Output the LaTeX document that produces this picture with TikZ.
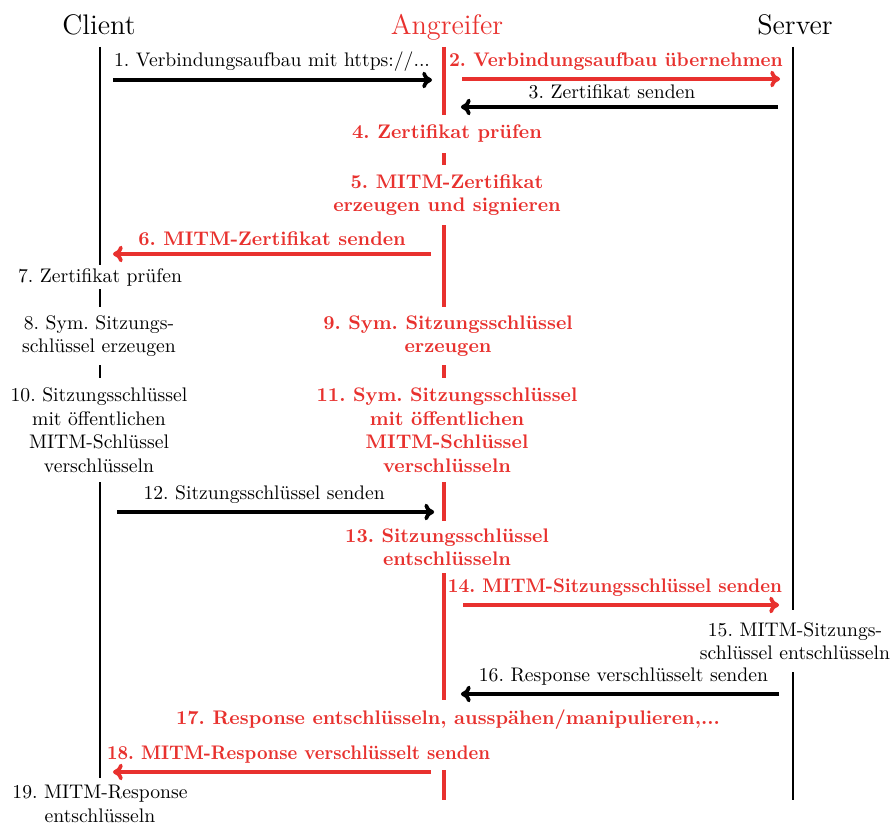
\documentclass[tikz,border=0pt]{standalone}
\usepackage{graphicx}
\usetikzlibrary{arrows.meta}
\definecolor{attack}{RGB}{232,49,46}
\frenchspacing
\begin{document}
\begin{tikzpicture}[x=0.5089pt, y=-0.5089pt,
  head/.style={font=\Large, anchor=base, inner sep=0pt},
  life/.style={line width=1.5pt},
  evilline/.style={life, attack, line width=1.7pt},
  msg/.style={line width=1.9pt, -{To[length=5pt,width=8.5pt]}},
  evilmsg/.style={msg, attack},
  note/.style={fill=white, align=center, inner xsep=1pt},
  evil/.style={text=attack, font=\bfseries},
  lbl/.style={above, inner xsep=1pt}
]
\useasboundingbox (0,0) rectangle (892,825);

% participants
\node[head] (client) at (99,35) {Client};
\node[head, text=attack] (attacker) at (447,35) {Angreifer};
\node[head] (server) at (795,35) {Server};

% lifelines
\coordinate (cTop) at (100,47);
\coordinate (cEnd) at (100,778);
\coordinate (aTop) at (444,47);
\coordinate (aEnd) at (444,800);
\coordinate (sTop) at (793,47);
\coordinate (sEnd) at (793,800);
\draw[life] (cTop) -- (cEnd);
\draw[evilline] (aTop) -- (aEnd);
\draw[life] (sTop) -- (sEnd);

% local steps, set over the lifelines
\node[note, inner ysep=1.7pt] (c7) at (100,277) {7. Zertifikat prüfen};
\node[note, inner ysep=4pt] (c8) at (99,336) {8. Sym. Sitzungs-\\schlüssel erzeugen};
\node[note, inner ysep=4.8pt] (c10) at (99,430) {10. Sitzungsschlüssel\\mit öffentlichen\\MITM-Schlüssel\\verschlüsseln};
\node[note, inner ysep=1pt] (c19) at (100,804) {19. MITM-Response\\entschlüsseln};

\node[note, evil, inner ysep=5pt] (a4) at (447,134) {4. Zertifikat prüfen};
\node[note, evil, inner ysep=4.8pt] (a5) at (447,195) {5. MITM-Zertifikat\\erzeugen und signieren};
\node[note, evil, inner ysep=4.3pt] (a9) at (448,336) {9. Sym. Sitzungsschlüssel\\erzeugen};
\node[note, evil, inner ysep=5pt] (a11) at (447,430) {11. Sym. Sitzungsschlüssel\\mit öffentlichen\\MITM-Schlüssel\\verschlüsseln};
\node[note, evil, inner ysep=3.5pt] (a13) at (447,547) {13. Sitzungsschlüssel\\entschlüsseln};
\node[note, evil, inner ysep=5pt] (a17) at (448,720) {17. Response entschlüsseln, ausspähen/manipulieren,...};

\node[note, inner ysep=6pt] (s15) at (795,641) {15. MITM-Sitzungs-\\schlüssel entschlüsseln};

% messages
\draw[msg, shorten <=6.6pt, shorten >=6.1pt] (cTop |- 0,80) -- node[lbl] {1. Verbindungsaufbau mit https://...} (aTop |- 0,80);
\draw[evilmsg, shorten <=9.2pt, shorten >=6.6pt] (aTop |- 0,79) -- node[lbl, evil, xshift=-1.3pt] {\scalebox{0.965}[1]{2. Verbindungsaufbau übernehmen}} (sTop |- 0,79);
\draw[msg, shorten <=7.6pt, shorten >=8.6pt] (sTop |- 0,107) -- node[lbl, xshift=-3.3pt] {3. Zertifikat senden} (aTop |- 0,107);
\draw[evilmsg, shorten <=6.6pt, shorten >=6.6pt] (aTop |- 0,254) -- node[lbl, evil] {6. MITM-Zertifikat senden} (cTop |- 0,254);
\draw[msg, shorten <=8.6pt, shorten >=5pt] (cTop |- 0,512) -- node[lbl, xshift=-4pt] {12. Sitzungsschlüssel senden} (aTop |- 0,512);
\draw[evilmsg, shorten <=9.7pt, shorten >=7.1pt] (aTop |- 0,605) -- node[lbl, evil, xshift=-1.8pt] {\scalebox{0.946}[1]{14. MITM-Sitzungsschlüssel senden}} (sTop |- 0,605);
\draw[msg, shorten <=7.1pt, shorten >=8.6pt] (sTop |- 0,694) -- node[lbl, xshift=2.5pt] {16. Response verschlüsselt senden} (aTop |- 0,694);
\draw[evilmsg, shorten <=6.6pt, shorten >=6.6pt] (aTop |- 0,772) -- node[lbl, evil, fill=white, behind path, xshift=13.5pt] {\scalebox{0.934}[1]{18. MITM-Response verschlüsselt senden}} (cTop |- 0,772);
\end{tikzpicture}
\end{document}
